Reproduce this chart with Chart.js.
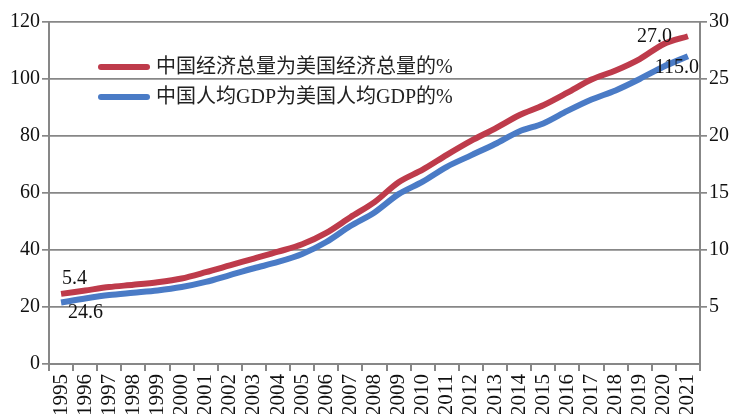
<!DOCTYPE html>
<html lang="zh">
<head>
    <meta charset="UTF-8">
    <title>中国与美国经济总量及人均GDP比较</title>
    <style>
        body { margin: 0; background: #ffffff; }
        #wrap { width: 735px; height: 414px; }
    </style>
</head>
<body>
    <div id="wrap"><canvas id="gdpChart"></canvas></div>
    <script src="https://cdn.jsdelivr.net/npm/chart.js"></script>
    <script>
        // data
        const years = ['1995', '1996', '1997', '1998', '1999', '2000', '2001', '2002', '2003', '2004',
            '2005', '2006', '2007', '2008', '2009', '2010', '2011', '2012', '2013', '2014',
            '2015', '2016', '2017', '2018', '2019', '2020', '2021'];
        // left axis (0-120)
        const totalShare = [24.6, 25.8, 27.0, 27.8, 28.7, 30.0, 32.2, 34.6, 37.0, 39.4,
            42.0, 46.0, 51.5, 56.8, 63.8, 68.2, 73.4, 78.3, 82.6, 87.3,
            90.8, 95.2, 99.8, 103.0, 107.0, 112.3, 115.0];
        // right axis (0-30)
        const perCapitaShare = [5.4, 5.75, 6.05, 6.25, 6.45, 6.75, 7.2, 7.8, 8.4, 8.95,
            9.65, 10.7, 12.1, 13.3, 14.9, 16.0, 17.3, 18.3, 19.3, 20.4,
            21.1, 22.2, 23.2, 24.0, 25.0, 26.1, 27.0];
        const seriesNames = ['中国经济总量为美国经济总量的%', '中国人均GDP为美国人均GDP的%'];
        const leftTicks = [0, 20, 40, 60, 80, 100, 120];
        const rightTicks = [5, 10, 15, 20, 25, 30];

        const axisGray = '#878787';
        const serif = "'Liberation Serif', 'Noto Sans CJK SC', serif";

        // value labels as printed on the picture (dataset, index, text, dx, dy)
        const pointLabels = [
            { ds: 0, i: 0, text: '5.4', dx: 1, dy: -15, align: 'left' },
            { ds: 1, i: 0, text: '24.6', dx: 7, dy: 10, align: 'left' },
            { ds: 0, i: 26, text: '27.0', dx: -16, dy: 0, align: 'right' },
            { ds: 1, i: 26, text: '115.0', dx: 11, dy: 12, align: 'right' }
        ];

        const labelPlugin = {
            id: 'labelPlugin',
            afterDatasetsDraw(chart) {
                const c = chart.ctx;
                c.save();
                c.font = '20px ' + serif;
                c.fillStyle = '#111';
                c.textBaseline = 'middle';
                pointLabels.forEach(l => {
                    const pt = chart.getDatasetMeta(l.ds).data[l.i];
                    c.textAlign = l.align;
                    c.fillText(l.text, pt.x + l.dx, pt.y + l.dy);
                });

                // legend inside the plot
                const a = chart.chartArea;
                const rows = [a.top + 45, a.top + 75];
                c.font = "20px 'Liberation Serif', 'Noto Sans CJK SC', serif";
                c.textAlign = 'left';
                c.lineCap = 'round';
                chart.data.datasets.forEach((ds, k) => {
                    c.strokeStyle = ds.borderColor;
                    c.lineWidth = 6;
                    c.beginPath();
                    c.moveTo(a.left + 52, rows[k]);
                    c.lineTo(a.left + 98, rows[k]);
                    c.stroke();
                    c.fillStyle = '#222';
                    c.fillText(ds.label, a.left + 107, rows[k] + 1);
                });
                c.restore();
            }
        };

        const ctx = document.getElementById('gdpChart').getContext('2d');
        const gdpChart = new Chart(ctx, {
            type: 'line',
            data: {
                labels: years,
                datasets: [
                    {
                        label: seriesNames[0],
                        data: totalShare,
                        borderColor: '#be3b4b',
                        borderWidth: 6,
                        pointRadius: 0,
                        tension: 0.3,
                        yAxisID: 'y'
                    },
                    {
                        label: seriesNames[1],
                        data: perCapitaShare,
                        borderColor: '#4a7bc6',
                        borderWidth: 6,
                        pointRadius: 0,
                        tension: 0.3,
                        yAxisID: 'y1'
                    }
                ]
            },
            options: {
                responsive: true,
                maintainAspectRatio: false,
                animation: false,
                layout: { padding: { top: 22, left: 0, right: 0, bottom: 0 } },
                plugins: {
                    legend: { display: false },
                    tooltip: { enabled: false }
                },
                scales: {
                    x: {
                        offset: true,
                        grid: {
                            offset: true,
                            drawOnChartArea: false,
                            drawTicks: true,
                            tickLength: 7,
                            color: axisGray,
                            lineWidth: 2
                        },
                        border: { color: axisGray, width: 2 },
                        ticks: {
                            autoSkip: false,
                            minRotation: 90,
                            maxRotation: 90,
                            padding: 3,
                            color: '#111',
                            font: { family: serif, size: 21 }
                        },
                        afterFit: s => { s.height = 50; }
                    },
                    y: {
                        position: 'left',
                        min: 0,
                        max: 120,
                        afterBuildTicks: s => { s.ticks = leftTicks.map(v => ({ value: v })); },
                        grid: { color: axisGray, lineWidth: 1.7, tickLength: 7 },
                        border: { color: axisGray, width: 2 },
                        ticks: {
                            padding: 2,
                            color: '#111',
                            font: { family: serif, size: 20 }
                        },
                        afterFit: s => { s.width = 49; }
                    },
                    y1: {
                        position: 'right',
                        min: 0,
                        max: 30,
                        afterBuildTicks: s => { s.ticks = rightTicks.map(v => ({ value: v })); },
                        grid: { drawOnChartArea: false, color: axisGray, lineWidth: 1.7, tickLength: 7 },
                        border: { color: axisGray, width: 2 },
                        ticks: {
                            padding: 2,
                            color: '#111',
                            font: { family: serif, size: 20 }
                        },
                        afterFit: s => { s.width = 35; }
                    }
                }
            },
            plugins: [labelPlugin]
        });
    </script>
</body>
</html>
